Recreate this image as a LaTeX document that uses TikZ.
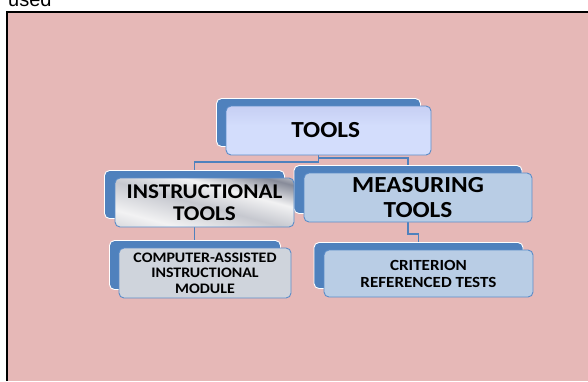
\documentclass[tikz,border=0pt]{standalone}
\usepackage{fontspec}
\setmainfont{Liberation Sans}
\newfontfamily\boxfont[FakeStretch=1.1]{Carlito}
\usetikzlibrary{positioning, calc, backgrounds}
\usepackage{xcolor}
\definecolor{SlidePink}{HTML}{E6B8B7}
\definecolor{AccentBlue}{HTML}{4F81BD}
\definecolor{EdgeBlue}{HTML}{5B8CC8}
\definecolor{PaleBlue}{HTML}{B9CDE5}
\definecolor{PaleGrey}{HTML}{CFD4DC}
% top box fade (vertical, 0bp = bottom)
\definecolor{fadeLow}{HTML}{A9B5B4}
\definecolor{fadeMid}{HTML}{D3DDFC}
\definecolor{fadeHigh}{HTML}{C3CBF1}
\definecolor{fadeTop}{HTML}{8C90C8}
\pgfdeclareverticalshading{toolsfade}{100bp}{%
  color(0bp)=(fadeLow); color(8bp)=(fadeMid); color(55bp)=(fadeMid);
  color(80bp)=(fadeHigh); color(100bp)=(fadeTop)}
% brushed silver for the left branch
\definecolor{metalDark}{HTML}{878B99}
\definecolor{metalMid}{HTML}{C6C8CF}
\definecolor{metalLight}{HTML}{F2F2F3}
\pgfdeclarehorizontalshading{metal}{100bp}{%
  color(0bp)=(metalDark); color(12bp)=(metalMid); color(30bp)=(metalLight);
  color(48bp)=(metalMid); color(62bp)=(metalLight); color(76bp)=(metalDark);
  color(86bp)=(metalLight); color(100bp)=(metalDark)}
\tikzset{
  frontbox/.style={
    rectangle, rounded corners=5pt, draw=EdgeBlue, line width=0.9pt,
    align=center, inner sep=0pt
  },
  backbox/.style={
    rectangle, rounded corners=5pt, draw=white, line width=0.9pt,
    fill=AccentBlue, inner sep=0pt
  },
  link/.style={
    draw=AccentBlue, line width=1.1pt
  }
}

\begin{document}
\begin{tikzpicture}[x=1pt, y=-1pt]

\useasboundingbox (0,0) rectangle (588,381);

% ── Caption line cut by the page edge ─────────────────────────────────────────

\node[anchor=base west, inner sep=0pt, font=\fontsize{20}{20}\selectfont] (caption) at (8,6.5) {used};

% ── Front boxes ───────────────────────────────────────────────────────────────

\node[frontbox, minimum width=205pt, minimum height=49pt, shading=toolsfade,
      font=\boxfont\bfseries\fontsize{23}{25}\selectfont] (tools) at (328.5,130.5) {%
  TOOLS
};

\node[frontbox, minimum width=179pt, minimum height=49pt, shading=metal, shading angle=75,
      font=\boxfont\bfseries\fontsize{21}{21.5}\selectfont] (instr) at (204.5,202.5) {%
  INSTRUCTIONAL\\TOOLS
};

\node[frontbox, minimum width=228pt, minimum height=49pt, fill=PaleBlue,
      font=\boxfont\bfseries\fontsize{23}{25}\selectfont] (meas) at (418,197.5) {%
  MEASURING\\TOOLS
};

\node[frontbox, minimum width=172pt, minimum height=50pt, fill=PaleGrey,
      font=\boxfont\bfseries\fontsize{14.5}{15.5}\selectfont] (cam) at (205,273) {%
  COMPUTER-ASSISTED\\INSTRUCTIONAL\\MODULE
};

\node[frontbox, minimum width=209pt, minimum height=47pt, fill=PaleBlue,
      font=\boxfont\bfseries\fontsize{15.5}{17}\selectfont] (crit) at (428.5,273.5) {%
  CRITERION\\REFERENCED TESTS
};

\begin{scope}[on background layer]

  % Slide area with its black top and left rule
  \fill[SlidePink] (7,12) rectangle (588,381);
  \draw[black, line width=2pt] (7,381) -- (7,12) -- (588,12);

  % ── Back boxes, offset up and left of each front box ──────────────────────

  \node[backbox, minimum width=204pt, minimum height=48pt] (toolsBack) at ($(tools.center)+(-10,-8)$) {};
  \node[backbox, minimum width=180pt, minimum height=48pt] (instrBack) at ($(instr.center)+(-10,-8)$) {};
  \node[backbox, minimum width=228pt, minimum height=48pt] (measBack)  at ($(meas.center)+(-10,-8)$) {};
  \node[backbox, minimum width=171pt, minimum height=49pt] (camBack)   at ($(cam.center)+(-10,-8)$) {};
  \node[backbox, minimum width=209pt, minimum height=46pt] (critBack)  at ($(crit.center)+(-10,-8)$) {};

  % ── Elbow connectors between back boxes ───────────────────────────────────

  \draw[link] (toolsBack.south) -- ++(0,15) -| (instrBack.north);
  \draw[link] (toolsBack.south) -- ++(0,11) -| (measBack.north);
  \draw[link] (instrBack.south) -- (instrBack.south |- camBack.north);
  \draw[link] (measBack.south) -- ++(0,20) -| (critBack.north);

\end{scope}

\end{tikzpicture}
\end{document}
